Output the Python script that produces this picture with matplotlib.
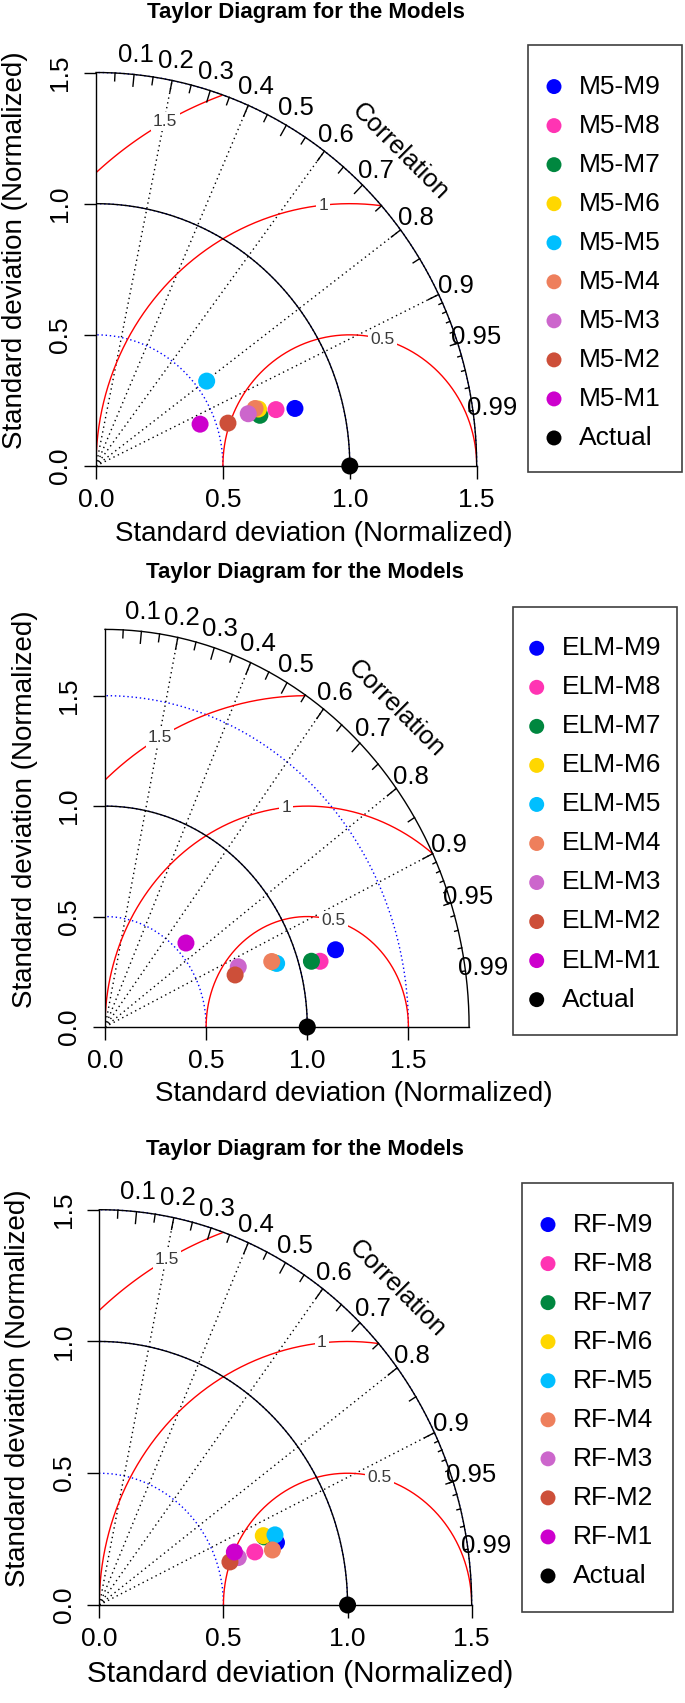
import numpy as np
import matplotlib
matplotlib.use("Agg")
import matplotlib.pyplot as plt
from matplotlib.patches import Rectangle

plt.rcParams['font.family'] = ['Liberation Sans', 'DejaVu Sans']

W, H = 685, 1703

# legend order (M9 first), drawn in this order so M1 ends up on top
model_ids = ['M9', 'M8', 'M7', 'M6', 'M5', 'M4', 'M3', 'M2', 'M1']
colors = ['#0000FF', '#FF34B3', '#00873F', '#FFD700', '#00BFFF',
          '#EE7F5C', '#CC66CC', '#CD4F39', '#CD00CD']

# normalized standard deviation and correlation
m5_sd = [0.814, 0.741, 0.674, 0.676, 0.543, 0.664, 0.632, 0.545, 0.440]
m5_cor = [0.963, 0.957, 0.958, 0.947, 0.803, 0.944, 0.949, 0.954, 0.932]

elm_sd = [1.192, 1.104, 1.063, 0.885, 0.896, 0.876, 0.713, 0.685, 0.552]
elm_cor = [0.956, 0.963, 0.960, 0.944, 0.947, 0.941, 0.924, 0.939, 0.725]

rf_sd = [0.752, 0.658, 0.713, 0.711, 0.756, 0.728, 0.588, 0.551, 0.580]
rf_cor = [0.949, 0.952, 0.932, 0.929, 0.936, 0.958, 0.952, 0.955, 0.938]

actual_sd = 1.0

sd_ticks = [0.0, 0.5, 1.0, 1.5]
sd_tick_labels = ['0.0', '0.5', '1.0', '1.5']
corr_rays = [0.2, 0.4, 0.6, 0.8, 0.9]
corr_labels = [0.1, 0.2, 0.3, 0.4, 0.5, 0.6, 0.7, 0.8, 0.9, 0.95, 0.99]
rms_levels = [0.5, 1.0, 1.5]
rms_label_angles = [75, 96, 119]  # degrees around the reference point


def add_px_axes(fig, left, right, top, bottom):
    return fig.add_axes([left / W, 1 - bottom / H, (right - left) / W, (bottom - top) / H])


def taylor_panel(fig, panel, sd, cor, prefix, maxsd):
    left, right, top, bottom = panel['box']
    ax = add_px_axes(fig, left, right, top, bottom)
    ax.set_xlim(0, maxsd)
    ax.set_ylim(0, maxsd)
    ax.patch.set_visible(False)
    for s in ['top', 'right']:
        ax.spines[s].set_visible(False)
    for s in ['left', 'bottom']:
        ax.spines[s].set_linewidth(1.0)
        ax.spines[s].set_bounds(0, maxsd)

    ax.set_xticks(sd_ticks, sd_tick_labels)
    ax.set_yticks(sd_ticks, sd_tick_labels)
    ax.tick_params(direction='out', length=9, width=1.0, labelsize=19, pad=7)
    ax.tick_params(axis='y', labelrotation=90, pad=8)
    for lab in ax.get_yticklabels():
        lab.set_va('center')

    th = np.linspace(0, np.pi / 2, 300)
    # sd arcs (blue dotted), then reference and outer arc
    for r in sd_ticks[1:]:
        if r <= maxsd + 1e-9:
            ax.plot(r * np.cos(th), r * np.sin(th), color='blue', lw=1.0,
                    ls=(0, (1, 2)), clip_on=False, zorder=1)
    ax.plot(actual_sd * np.cos(th), actual_sd * np.sin(th), color='black', lw=1.0, zorder=2)
    ax.plot(maxsd * np.cos(th), maxsd * np.sin(th), color='black', lw=1.0, clip_on=False, zorder=2)

    # correlation rays
    for c in corr_rays:
        ax.plot([0, maxsd * c], [0, maxsd * np.sqrt(1 - c ** 2)], color='black',
                lw=1.0, ls=(0, (1, 2.5)), zorder=1)

    # ticks on the correlation arc
    big = np.arange(0.1, 0.95, 0.1)
    med = np.arange(0.05, 1.0, 0.1)
    sml = np.arange(0.91, 0.995, 0.01)
    for ticks, frac in [(big, 0.97), (med, 0.98), (sml, 0.99)]:
        for c in ticks:
            s = np.sqrt(1 - c ** 2)
            ax.plot([c * maxsd, c * frac * maxsd], [s * maxsd, s * frac * maxsd],
                    color='black', lw=1.0, clip_on=False, zorder=2)

    for c in corr_labels:
        s = np.sqrt(1 - c ** 2)
        ax.text(1.05 * maxsd * c, 1.05 * maxsd * s, f'{c:g}', fontsize=18.5,
                ha='center', va='center', clip_on=False)
    ax.text(0.8 * maxsd, 0.8 * maxsd, 'Correlation', fontsize=18.5, rotation=-45,
            ha='center', va='center', rotation_mode='anchor')

    # centred RMS difference contours
    t = np.linspace(0, np.pi, 600)
    for g, a in zip(rms_levels, rms_label_angles):
        x = actual_sd + g * np.cos(t)
        y = g * np.sin(t)
        keep = (x >= 0) & (x ** 2 + y ** 2 <= maxsd ** 2)
        ax.plot(x[keep], y[keep], color='red', lw=1.0, zorder=1)
        ar = np.radians(a)
        ax.text(actual_sd + g * np.cos(ar), g * np.sin(ar), f'{g:g}', fontsize=12.5,
                color='#3a3a3a', ha='center', va='center', zorder=3,
                bbox=dict(facecolor='white', edgecolor='none', pad=1.5))

    # points
    handles = []
    for i in range(len(sd)):
        h = ax.scatter([sd[i] * cor[i]], [sd[i] * np.sqrt(1 - cor[i] ** 2)], s=150,
                       color=colors[i], edgecolors='none', zorder=5, clip_on=False)
        handles.append(h)
    h_act = ax.scatter([actual_sd], [0], s=150, color='black', edgecolors='none',
                       zorder=4, clip_on=False)
    handles.append(h_act)
    labels = [f'{prefix}-{m}' for m in model_ids] + ['Actual']

    ax.set_xlabel('Standard deviation (Normalized)', fontsize=panel['xlabel_size'], va='center')
    ax.set_ylabel('Standard deviation (Normalized)', fontsize=20, va='center')
    aw, ah = right - left, bottom - top
    lx, ly = panel['xlabel']
    ax.xaxis.set_label_coords((lx - left) / aw, (bottom - ly) / ah)
    yx, yy = panel['ylabel']
    ax.yaxis.set_label_coords((yx - left) / aw, (bottom - yy) / ah)

    tx, ty = panel['title']
    fig.text(tx / W, 1 - ty / H, 'Taylor Diagram for the Models', fontsize=16,
             fontweight='bold', ha='center', va='center')

    # legend
    mx, row1 = panel['legend']
    fs = 19
    em = fs * 100 / 72
    hl = 0.8
    fig.legend(handles, labels, loc='upper left',
               bbox_to_anchor=((mx - hl * em / 2) / W, 1 - (row1 - 10.5) / H),
               frameon=False, borderpad=0, borderaxespad=0, fontsize=fs,
               labelspacing=0.57, handlelength=hl, handletextpad=0.55,
               markerscale=0.88, scatterpoints=1)
    bx0, bx1, by0, by1 = panel['legend_box']
    fig.add_artist(Rectangle((bx0 / W, 1 - by1 / H), (bx1 - bx0) / W, (by1 - by0) / H,
                             transform=fig.transFigure, fill=False,
                             edgecolor='#404040', lw=1.2))
    return ax


fig = plt.figure(figsize=(W / 100, H / 100), dpi=100)

p1 = dict(box=(96, 476.7, 72.5, 466), title=(306, 12.5), xlabel=(314, 534), xlabel_size=20,
          ylabel=(15, 250), legend=(554, 85), legend_box=(528, 682, 45, 472))
p2 = dict(box=(105, 469.1, 629.4, 1027), title=(305, 572.5), xlabel=(353.5, 1094), xlabel_size=20,
          ylabel=(25, 809), legend=(536.7, 646.7), legend_box=(512.7, 677, 607, 1035))
p3 = dict(box=(99.3, 471.7, 1209.7, 1605), title=(305, 1150), xlabel=(300, 1674), xlabel_size=21.4,
          ylabel=(18.3, 1388), legend=(548, 1223), legend_box=(522, 673, 1182.7, 1611.7))

taylor_panel(fig, p1, m5_sd, m5_cor, 'M5', 1.5)
taylor_panel(fig, p2, elm_sd, elm_cor, 'ELM', 1.8)
taylor_panel(fig, p3, rf_sd, rf_cor, 'RF', 1.5)

fig.savefig('out.png', dpi=100)
